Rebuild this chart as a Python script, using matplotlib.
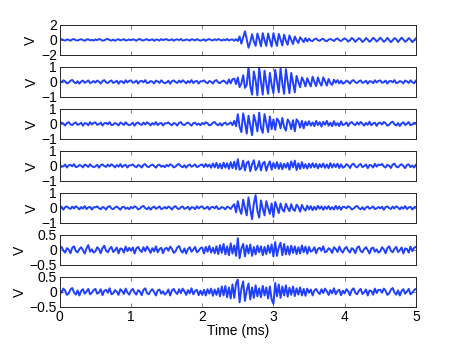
import numpy as np
import matplotlib
matplotlib.use("Agg")
import matplotlib.pyplot as plt

plt.rcParams['font.family'] = ['Liberation Sans', 'DejaVu Sans']
plt.rcParams['font.size'] = 10

# sample times (ms), one value every 0.025 ms
t = np.linspace(0, 5, 201)

# channel traces, in units of 0.01 V
ch1 = [4, 10, -2, -9, 6, 1, -11, 7, 12, -4, -8, 3, 9, -1, -12, 5, 8, -6, 2, -9,
       7, -3, 11, 4, -10, -5, 8, 13, -2, -9, 5, -12, 3, 9, -6, 1, 10, -8, -3, 6,
       -5, 9, 2, -11, 6, 12, -3, -8, 4, 10, -7, -1, 8, -12, 5, 3, -9, 11, -4, 7,
       10, -6, -2, 9, -11, 4, 7, -3, 12, -8, -5, 6, 1, -10, 9, 3, -7, 11, -2, -9,
       -3, 8, -12, 5, 10, -1, -7, 9, -4, 11, 2, -10, 6, -5, 12, -8, 3, 7, -11, 10,
       -15, 45, -50, 30, 115, 10, -105, -30, 75, -20, -80, 85, 10, -85, 90, -5, -80, 85, 0, -90,
       90, -5, -80, 80, 5, -75, 70, -10, -65, 60, 0, -55, 45, -5, -40, 35, 5, -30, 25, -20,
       15, -10, -15, 10, 18, -5, -12, 8, 15, -10, -18, 5, 12, 0, -15, 10, 20, -5, -15, 5,
       20, 5, -22, -5, 25, 8, -25, 0, 22, 5, -28, -8, 25, 3, -25, -5, 28, 8, -22, 0,
       30, 5, -25, -8, 28, 0, -30, -5, 25, 8, -28, 0, 30, 5, -25, -8, 25, 3, -30, -5,
       20]
ch2 = [7, -3, 11, 4, -10, -5, 8, 13, -2, -9, 5, -12, 3, 9, -6, 1, 10, -8, -3, 6,
       -5, 9, 2, -11, 6, 12, -3, -8, 4, 10, -7, -1, 8, -12, 5, 3, -9, 11, -4, 7,
       10, -6, -2, 9, -11, 4, 7, -3, 12, -8, -5, 6, 1, -10, 9, 3, -7, 11, -2, -9,
       -3, 8, -12, 5, 10, -1, -7, 9, -4, 11, 2, -10, 6, -5, 12, -8, 3, 7, -11, 4,
       4, 10, -2, -9, 6, 1, -11, 7, 12, -4, -8, 3, 9, -1, -12, 16, -10, 18, 22, -15,
       30, -35, -10, 45, -40, -20, 100, -30, -85, 70, 10, -90, 95, 0, -85, 75, -10, -80, 60, -20,
       -75, 80, 5, -70, 90, -10, -80, 85, 0, -75, 60, -5, -70, 40, 0, -35, 30, 5, -30, 25,
       -5, -30, 35, 0, -28, 30, -5, -25, 30, 5, -25, 20, -8, -20, 15, -6, 12, -10, 8, -12,
       -5, 9, 2, -11, 6, 12, -3, -8, 4, 10, -7, -1, 8, -12, 5, 3, -9, 11, -4, 7,
       10, -6, -2, 9, -11, 4, 7, -3, 12, -8, -5, 6, 1, -10, 9, 3, -7, 11, -2, -9,
       8]
ch3 = [-5, 9, 2, -11, 6, 12, -3, -8, 4, 10, -7, -1, 8, -12, 5, 3, -9, 11, -4, 7,
       10, -6, -2, 9, -11, 4, 7, -3, 12, -8, -5, 6, 1, -10, 9, 3, -7, 11, -2, -9,
       -3, 8, -12, 5, 10, -1, -7, 9, -4, 11, 2, -10, 6, -5, 12, -8, 3, 7, -11, 4,
       4, 10, -2, -9, 6, 1, -11, 7, 12, -4, -8, 3, 9, -1, -12, 5, 8, -6, 2, -9,
       7, -3, 11, 4, -10, -5, 8, 13, -2, -9, 5, -12, 3, 9, -6, 1, 10, -8, 20, -15,
       65, -20, -55, 70, 10, -65, 55, -10, -75, 60, 15, -50, 75, -25, -60, 65, 5, -55, 50, -35,
       30, -40, 35, 20, -30, 40, -20, -45, 30, 10, -35, 25, -50, 30, 15, -25, 20, -30, 15, -10,
       18, -12, 10, -15, 20, -8, 12, -18, 14, -6, 20, -12, 8, -15, 18, -10, 6, -14, 16, -8,
       -3, 10, -14, 6, 12, -1, -8, 11, -5, 13, 2, -12, 7, -6, 14, -9, 3, 8, -13, 5,
       8, -4, 13, 5, -12, -6, 9, 15, -2, -11, 6, -14, 3, 11, -7, 1, 12, -9, -3, 7,
       6]
ch4 = [10, -6, -2, 9, -11, 4, 7, -3, 12, -8, -5, 6, 1, -10, 9, 3, -7, 11, -2, -9,
       -3, 8, -12, 5, 10, -1, -7, 9, -4, 11, 2, -10, 6, -5, 12, -8, 3, 7, -11, 4,
       4, 10, -2, -9, 6, 1, -11, 7, 12, -4, -8, 3, 9, -1, -12, 5, 8, -6, 2, -9,
       7, -3, 11, 4, -10, -5, 8, 13, -2, -9, 5, -12, 3, 9, -6, 1, 10, -8, -3, 6,
       10, -8, 13, -6, 9, -12, 16, -10, 20, -15, 14, -18, 22, -12, 18, -20, 25, -15, 28, -22,
       45, -25, -15, 35, -30, 20, 30, -35, 10, 38, -28, -10, 32, -30, 15, 28, -32, 5, 30, -25,
       20, -15, 25, -20, 18, -22, 15, -12, 20, -25, 30, -10, 35, -28, 18, -20, 25, -15, 12, -18,
       15, -12, 18, -10, 14, -16, 12, -9, 16, -13, 10, -15, 18, -11, 13, -8, 15, -14, 11, -12,
       -6, 12, 3, -14, 8, 15, -4, -10, 5, 13, -9, -1, 10, -15, 6, 4, -11, 14, -5, 9,
       5, 13, -3, -11, 8, 1, -14, 9, 15, -5, -10, 4, 11, -1, -15, 6, 10, -8, 3, -11,
       8]
ch5 = [-3, 8, -12, 5, 10, -1, -7, 9, -4, 11, 2, -10, 6, -5, 12, -8, 3, 7, -11, 4,
       4, 10, -2, -9, 6, 1, -11, 7, 12, -4, -8, 3, 9, -1, -12, 5, 8, -6, 2, -9,
       7, -3, 11, 4, -10, -5, 8, 13, -2, -9, 5, -12, 3, 9, -6, 1, 10, -8, -3, 6,
       -5, 9, 2, -11, 6, 12, -3, -8, 4, 10, -7, -1, 8, -12, 5, 3, -9, 11, -4, 7,
       10, -6, -2, 9, -11, 4, 7, -3, 12, -8, -5, 6, 1, -10, 9, 3, -7, 11, 25, -30,
       45, -10, -40, 55, 0, -50, 70, -10, -75, 30, 85, -20, -65, 50, -5, -50, 45, 0, -40, 30,
       -60, 40, 5, -35, 30, -10, -25, 28, 0, -22, 25, -8, -20, 22, 5, -25, 20, -5, -18, 15,
       -10, 12, -15, 8, -12, 14, -6, 10, -13, 9, -7, 12, -10, 6, -11, 14, -8, 10, -12, 7,
       7, -3, 11, 4, -10, -5, 8, 13, -2, -9, 5, -12, 3, 9, -6, 1, 10, -8, -3, 6,
       -3, 8, -12, 5, 10, -1, -7, 9, -4, 11, 2, -10, 6, -5, 12, -8, 3, 7, -11, 4,
       8]
ch6 = [4, 10, -2, -9, 6, 1, -11, 7, 12, -4, -8, 3, 9, -1, -12, 5, 16, -6, 2, -9,
       -5, 9, 2, -11, 6, 14, -3, -8, 4, 10, -7, -1, 8, -12, 5, 3, -9, 11, -4, 7,
       -3, 8, -12, 5, 10, -1, -7, 9, -4, 11, 2, -10, 6, -5, 12, -8, 3, 7, -11, 4,
       7, -3, 11, 4, -10, -5, 8, 13, -2, -9, 5, -12, 3, 9, -6, 1, 10, -8, -3, 6,
       8, -12, 10, -6, 13, -9, 7, -11, 12, -14, 16, -10, 20, -15, 12, -18, 22, -12, 15, -20,
       39, -28, 5, 20, -22, 15, -12, 18, -20, 10, -15, 14, -8, 12, -18, 10, -14, 15, -10, 18,
       -22, 26, -20, 8, 24, -18, 20, -15, 12, -16, 14, -10, 12, -14, 9, -12, 15, -8, 11, -13,
       10, -6, -2, 9, -11, 4, 7, -3, 12, -8, -5, 6, 1, -10, 9, 3, -7, 11, -2, -9,
       4, 10, -2, -9, 6, 1, -11, 7, 12, -4, -8, 3, 9, -1, -12, 5, 8, -6, 2, -9,
       -5, 9, 2, -11, 6, 12, -3, -8, 4, 10, -7, -1, 8, -12, 5, 3, -9, 11, -4, 7,
       10]
ch7 = [7, -3, 11, 4, -10, -5, 8, 13, -2, -9, 5, -12, 3, 9, -6, 1, 10, -8, -3, 6,
       10, -6, -2, 9, -11, 4, 7, -3, 12, -8, -5, 6, 1, -10, 9, 3, -7, 11, -2, -9,
       4, 10, -2, -9, 6, 1, -11, 7, 12, -4, -8, 3, 9, -1, -12, 5, 8, -6, 2, -9,
       -3, 8, -12, 5, 10, -1, -7, 9, -4, 11, 2, -10, 6, -5, 12, -8, 3, 7, -11, 4,
       -10, 7, -12, 9, -6, 11, -13, 8, -10, 12, -15, 18, -12, 20, -18, 15, -22, 25, -20, 28,
       41, -35, 10, 35, -30, 5, 28, -25, 15, -20, 22, -15, 12, -18, 20, -12, 15, -22, 18, -25,
       -40, 30, -15, 25, -20, 18, -12, 22, -16, 14, -10, 18, -14, 12, -9, 15, -12, 10, -13, 11,
       -3, 8, -12, 5, 10, -1, -7, 9, -4, 11, 2, -10, 6, -5, 12, -8, 3, 7, -11, 4,
       -5, 9, 2, -11, 6, 12, -3, -8, 4, 10, -7, -1, 8, -12, 5, 3, -9, 11, -4, 7,
       7, -3, 11, 4, -10, -5, 8, 13, -2, -9, 5, -12, 3, 9, -6, 1, 10, -8, -3, 6,
       10]

traces = [ch1, ch2, ch3, ch4, ch5, ch6, ch7]
y_limits = [2, 1, 1, 1, 1, 0.5, 0.5]
x_ticks = [0, 1, 2, 3, 4, 5]

fig, axes = plt.subplots(7, 1, figsize=(4.6, 3.46), dpi=100, sharex=True)
fig.subplots_adjust(left=0.13, right=0.904, top=0.928, bottom=0.113, hspace=0.4)

for ax, trace, lim in zip(axes, traces, y_limits):
    ax.plot(t, np.array(trace) / 100.0, color='#2040ff', linewidth=1.4)
    ax.set_xlim(0, 5)
    ax.set_ylim(-lim, lim)
    ax.set_yticks([-lim, 0, lim])
    ax.set_yticklabels([f"{-lim:g}".replace('-', '\u2212'), '0', f"{lim:g}"])
    ax.set_xticks(x_ticks)
    ax.set_ylabel('V', labelpad=2)
    ax.tick_params(direction='in', top=True, right=True, length=3, width=0.5,
                   color='#555555', labelsize=10, pad=2)
    for sp in ax.spines.values():
        sp.set_linewidth(0.7)
        sp.set_color('#262626')

axes[-1].set_xticklabels([str(x) for x in x_ticks])
axes[-1].set_xlabel('Time (ms)', labelpad=0)

fig.savefig('out.png', dpi=100)
